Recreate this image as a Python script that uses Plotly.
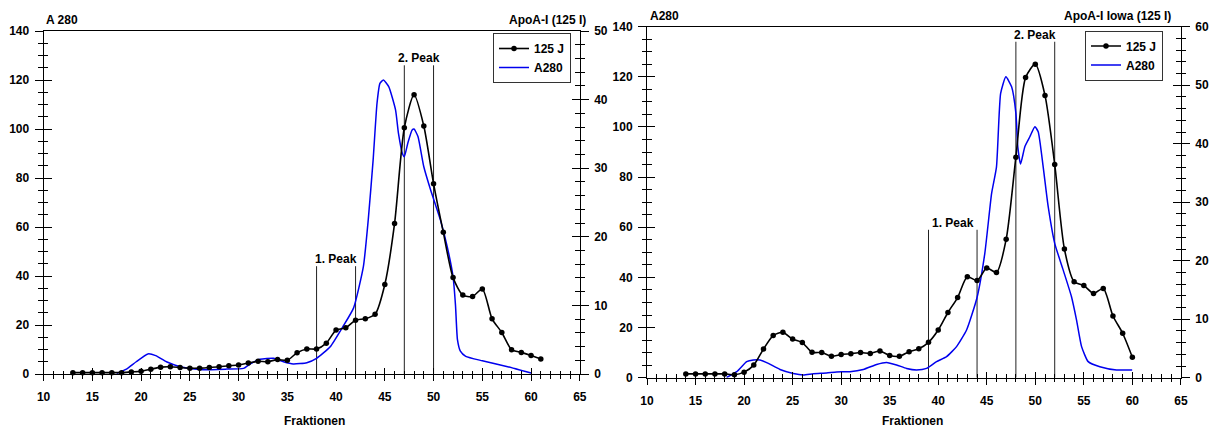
import plotly.graph_objects as go

# ---------------- data ----------------
# Left panel: ApoA-I (125 I)
left_j_x = list(range(13, 62))
left_j_y = [0.2, 0.2, 0.2, 0.2, 0.2, 0.2, 0.3, 0.4, 0.7, 1.0,
            1.05, 0.95, 0.85, 0.85, 0.95, 1.05, 1.2, 1.3, 1.6, 1.85,
            1.8, 2.1, 2.0, 3.1, 3.65, 3.65, 4.5, 6.4, 6.75, 7.85,
            8.05, 8.7, 13.05, 21.95, 35.9, 40.7, 36.15, 27.75, 20.65, 14.05,
            11.5, 11.3, 12.4, 8.05, 6.05, 3.55, 3.15, 2.7, 2.2]

left_a_x = [17.5, 18.5, 19.5, 20.7, 21.5, 22.6, 24.0, 26.0, 28.8, 30.5,
            31.3, 32.2, 33.6, 34.6, 35.6, 37.0, 38.0, 39.4, 40.7, 41.8,
            42.8, 43.3, 43.8, 44.2, 44.5, 44.85, 45.4, 46.1, 46.4, 46.8,
            47.0, 47.35, 47.8, 48.0, 48.4, 49.0, 49.7, 50.7, 51.4, 52.0,
            52.25, 52.45, 52.75, 53.3, 55.0, 57.6, 60.0]
left_a_y = [0.3, 2.0, 5.0, 8.2, 7.5, 5.0, 3.0, 1.8, 2.0, 2.3,
            4.4, 6.0, 6.4, 5.0, 4.1, 4.6, 6.4, 11.1, 19.3, 27.0,
            43.8, 62.9, 87.3, 110.5, 118.6, 120.0, 117.3, 107.8, 98.2, 90.0,
            88.7, 94.1, 99.6, 100.0, 96.9, 84.6, 75.1, 62.9, 52.0, 39.7,
            28.0, 14.0, 9.3, 7.2, 5.4, 3.0, 0.4]

left_peak1_x = [38, 42]
left_peak1_top = 44
left_peak2_x = [47, 50]
left_peak2_top = 126

# Right panel: ApoA-I Iowa (125 I)
right_j_x = list(range(14, 61))
right_j_y = [0.65, 0.65, 0.65, 0.65, 0.65, 0.5, 0.95, 2.15, 4.9, 7.2,
             7.75, 6.6, 6.0, 4.35, 4.3, 3.65, 3.95, 4.1, 4.3, 4.15,
             4.55, 3.8, 3.65, 4.45, 4.95, 6.05, 8.15, 11.15, 13.7, 17.25,
             16.6, 18.75, 18.0, 23.65, 37.7, 51.3, 53.6, 48.25, 36.45, 22.0,
             16.4, 15.75, 14.4, 15.25, 10.55, 7.6, 3.5]

right_a_x = [18.2, 19.24, 20.27, 20.95, 21.64, 22.5, 23.7, 25.07, 26.1, 27.13,
             28.5, 29.53, 30.9, 32.28, 33.65, 34.68, 35.71, 36.74, 37.77, 38.8,
             39.83, 40.86, 41.89, 42.92, 44.0, 44.8, 45.5, 46.0, 46.43, 46.97,
             47.56, 48.0, 48.2, 48.48, 48.93, 49.44, 49.96, 50.3, 50.81, 51.33,
             52.0, 52.87, 53.73, 54.25, 54.77, 55.45, 56.65, 58.37, 59.98]
right_a_y = [0.1, 2.4, 6.4, 7.1, 7.1, 5.7, 3.3, 1.7, 1.1, 1.6,
             1.9, 2.3, 2.4, 3.3, 5.3, 6.1, 5.1, 3.7, 3.1, 3.7,
             6.4, 8.4, 12.4, 19.0, 32.0, 49.6, 73.5, 84.0, 113.4, 120.0,
             116.0, 105.5, 92.0, 85.2, 92.2, 96.1, 100.1, 98.1, 84.2, 68.2,
             53.6, 43.0, 32.3, 23.0, 12.4, 6.4, 4.4, 3.1, 3.1]

right_peak1_x = [39, 44]
right_peak1_top = 59
right_peak2_x = [48, 52]
right_peak2_top = 134

x_ticks = list(range(10, 70, 5))
series_names = ["125 J", "A280"]

# ---------------- layout helpers ----------------
W, H = 1215, 428
FONT = "Liberation Sans, Arial, Helvetica, sans-serif"
BOLD = dict(family=FONT, size=12, color="black", weight="bold")


def px_x(p):
    return p / W


def px_y(p):
    return 1 - p / H


def peak_lines(xs, top):
    lx, ly = [], []
    for v in xs:
        lx += [v, v, None]
        ly += [0, top, None]
    return lx, ly


fig = go.Figure()

panels = [
    dict(x="x", xin="x3", y="y", yr="y2", yrin="y3", yin="y4",
         jx=left_j_x, jy=left_j_y, ax=left_a_x, ay=left_a_y,
         p1=left_peak1_x, p1t=left_peak1_top, p2=left_peak2_x, p2t=left_peak2_top,
         legend="legend"),
    dict(x="x2", xin="x4", y="y5", yr="y6", yrin="y7", yin="y8",
         jx=right_j_x, jy=right_j_y, ax=right_a_x, ay=right_a_y,
         p1=right_peak1_x, p1t=right_peak1_top, p2=right_peak2_x, p2t=right_peak2_top,
         legend="legend2"),
]

for P in panels:
    # peak delimiting lines
    for xs, top in ((P["p1"], P["p1t"]), (P["p2"], P["p2t"])):
        lx, ly = peak_lines(xs, top)
        fig.add_trace(go.Scatter(x=lx, y=ly, xaxis=P["x"], yaxis=P["y"], mode="lines",
                                 line=dict(color="#222222", width=1), showlegend=False,
                                 hoverinfo="skip"))
    # A280 (left axis)
    fig.add_trace(go.Scatter(x=P["ax"], y=P["ay"], xaxis=P["x"], yaxis=P["y"],
                             mode="lines", name="<b>%s</b>" % series_names[1],
                             line=dict(color="#0000ee", width=1.5, shape="spline", smoothing=0.5),
                             legend=P["legend"], legendrank=2))
    # 125 J (right axis)
    fig.add_trace(go.Scatter(x=P["jx"], y=P["jy"], xaxis=P["x"], yaxis=P["yr"],
                             mode="lines+markers", name="<b>%s</b>" % series_names[0],
                             line=dict(color="black", width=1.6, shape="spline", smoothing=0.7),
                             marker=dict(color="black", size=5.5),
                             cliponaxis=False, legend=P["legend"], legendrank=1))
    # invisible traces to register tick-only overlay axes
    for xa, ya in ((P["xin"], P["y"]), (P["x"], P["yin"]), (P["x"], P["yrin"])):
        fig.add_trace(go.Scatter(x=[30], y=[1], xaxis=xa, yaxis=ya, showlegend=False,
                                 mode="markers", marker=dict(opacity=0), hoverinfo="skip"))

axis_common = dict(showgrid=False, zeroline=False, linecolor="black", linewidth=1,
                   tickcolor="black", tickwidth=1, tickfont=BOLD, automargin=False)

layout = dict(
    template="none",
    width=W, height=H, margin=dict(l=0, r=0, t=0, b=0, autoexpand=False),
    paper_bgcolor="white", plot_bgcolor="white",
    font=dict(family=FONT, size=12, color="black"),
    hovermode=False,
)

geo = {
    "x": dict(dom=[px_x(43.6), px_x(579.8)], ydom=[px_y(374), px_y(31)], yr=50, yrd=10),
    "x2": dict(dom=[px_x(647), px_x(1180.9)], ydom=[px_y(377.7), px_y(26.7)], yr=60, yrd=10),
}

for P in panels:
    g = geo[P["x"]]
    xn = P["x"].replace("x", "xaxis")
    layout[xn] = dict(axis_common, domain=g["dom"], anchor=P["y"], range=[10, 65],
                      tickmode="array", tickvals=x_ticks, ticks="outside", ticklen=6,
                      showline=True, mirror=True, ticklabelstandoff=6,
                      minor=dict(dtick=1, tick0=10, ticks="outside", ticklen=3.5,
                                 tickcolor="black", tickwidth=1))
    layout[P["xin"].replace("x", "xaxis")] = dict(
        axis_common, overlaying=P["x"], anchor=P["y"], side="bottom", range=[10, 65],
        tickmode="array", tickvals=x_ticks, ticks="inside", ticklen=6,
        showline=False, showticklabels=False,
        minor=dict(dtick=1, tick0=10, ticks="inside", ticklen=3.5,
                   tickcolor="black", tickwidth=1))
    yn = "yaxis" if P["y"] == "y" else P["y"].replace("y", "yaxis")
    layout[yn] = dict(axis_common, domain=g["ydom"], anchor=P["x"], range=[0, 140],
                      dtick=20, tick0=0, ticks="outside", ticklen=8, showline=True,
                      ticklabelstandoff=3,
                      minor=dict(dtick=5, ticks="outside", ticklen=4.5,
                                 tickcolor="black", tickwidth=1))
    layout[P["yin"].replace("y", "yaxis")] = dict(
        axis_common, overlaying=P["y"], anchor=P["x"], side="left", range=[0, 140],
        dtick=20, tick0=0, ticks="inside", ticklen=8, showline=False, showticklabels=False,
        minor=dict(dtick=5, ticks="inside", ticklen=4.5, tickcolor="black", tickwidth=1))
    layout[P["yr"].replace("y", "yaxis")] = dict(
        axis_common, overlaying=P["y"], anchor=P["x"], side="right", range=[0, g["yr"]],
        dtick=g["yrd"], tick0=0, ticks="outside", ticklen=8, showline=True,
        ticklabelstandoff=3,
        minor=dict(dtick=2, ticks="outside", ticklen=4.5, tickcolor="black", tickwidth=1))
    layout[P["yrin"].replace("y", "yaxis")] = dict(
        axis_common, overlaying=P["y"], anchor=P["x"], side="right", range=[0, g["yr"]],
        dtick=g["yrd"], tick0=0, ticks="inside", ticklen=8, showline=False,
        showticklabels=False,
        minor=dict(dtick=2, ticks="inside", ticklen=4.5, tickcolor="black", tickwidth=1))

leg_common = dict(font=BOLD, bgcolor="white", bordercolor="#333333", borderwidth=1,
                  itemwidth=30, tracegroupgap=0, xanchor="right", yanchor="top",
                  traceorder="normal")
layout["legend"] = dict(leg_common, x=px_x(571), y=px_y(33))
layout["legend2"] = dict(leg_common, x=px_x(1163), y=px_y(30.5))

fig.update_layout(**layout)

ann = []
for P in panels:
    for xs, top, label in ((P["p1"], P["p1t"], "1. Peak"), (P["p2"], P["p2t"], "2. Peak")):
        ann.append(dict(x=(xs[0] + xs[1]) / 2, y=top, xref=P["x"], yref=P["y"],
                        text=label, showarrow=False, yanchor="bottom", yshift=-2,
                        font=BOLD))

texts = [
    ("A 280", 44, 19.5, "left"),
    ("ApoA-I (125 I)", 588, 19.5, "right"),
    ("A280", 648, 16, "left"),
    ("ApoA-I Iowa (125 I)", 1173, 16, "right"),
    ("Fraktionen", 314.4, 421, "center"),
    ("Fraktionen", 912.4, 421, "center"),
]
for t, xp, yp, anc in texts:
    ann.append(dict(text=t, x=px_x(xp), y=px_y(yp), xref="paper", yref="paper",
                    xanchor=anc, yanchor="middle", showarrow=False, font=BOLD))

fig.update_layout(annotations=ann)

fig.write_html("out.html", config={"displayModeBar": False},
               post_script="document.body.style.margin='0';")
